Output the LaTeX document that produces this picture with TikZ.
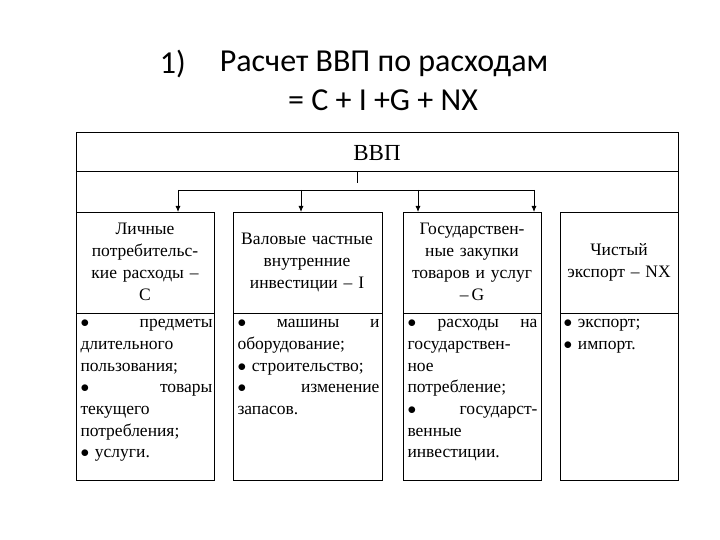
\documentclass[tikz,border=0pt]{standalone}
\usepackage{fontspec}
\setmainfont{Liberation Serif}
\newfontfamily\titlefont{Carlito}
\begin{document}
\begin{tikzpicture}[x=1pt,y=-1pt,line width=1pt,
 hd/.style={anchor=center,align=center,font=\fontsize{17.5}{22}\selectfont,text width=#1},
 bl/.style={anchor=north west,align=left,font=\fontsize{17.5}{21.7}\selectfont,inner sep=2pt},
 arr/.style={-{Latex[length=6pt,width=5pt]},line width=0.8pt}]
\usetikzlibrary{arrows.meta}
\useasboundingbox (0,0) rectangle (720,540);
\node[anchor=west,font=\titlefont\fontsize{32}{35}\selectfont] (n1) at (156,64) {1)};
\node[anchor=west,font=\titlefont\fontsize{32}{35}\selectfont] (t1) at (216,64) {Расчет ВВП по расходам};
\node[font=\titlefont\fontsize{32}{35}\selectfont] (t2) at (383,100) {= C + I +G + NX};
% outer frame
\draw (76,213) -- (76,133) -- (678,133) -- (678,213);
\draw (76,172) -- (678,172);
\node[font=\fontsize{23}{26}\selectfont] (vvp) at (377,153) {ВВП};
\coordinate (c0) at (357,172);
\coordinate (c1) at (357,183);
\draw[line width=0.8pt] (c0) -- (c1);
\coordinate (hl) at (178,190); \coordinate (hr) at (534,190);
\draw[line width=0.8pt] (hl) -- (hr);
% boxes
\foreach \i/\a/\b in {1/76/214,2/233/382,3/403/541,4/560/678}{
 \draw (\a,213) rectangle (\b,480);
 \draw (\a,313) -- (\b,313);
}
\draw[arr] (178,190) -- (178,212);
\draw[arr] (301,190) -- (301,212);
\draw[arr] (418,190) -- (418,212);
\draw[arr] (534,190) -- (534,212);
\node[hd=135pt] (h1) at (145,262) {Личные\\ потребительс-\\кие расходы –\\ С};
\node[hd=148pt] (h2) at (307,262) {Валовые частные\\ внутренние\\ инвестиции – I};
\node[hd=138pt] (h3) at (472,262) {Государствен-\\ные закупки\\ товаров и услуг\\ –\,G};
\node[hd=118pt] (h4) at (619,262) {Чистый\\ экспорт – NX};
\node[bl,text width=132pt] (d1) at (78,317) {\makebox[132pt][s]{$\bullet$\hfill предметы}\\ длительного\\ пользования;\\ \makebox[132pt][s]{$\bullet$\hfill товары}\\ текущего\\ потребления;\\ $\bullet$ услуги.};
\node[bl,text width=142pt] (d2) at (235,317) {\makebox[142pt][s]{$\bullet$\hfill машины\hfill и}\\ оборудование;\\ $\bullet$ строительство;\\ \makebox[142pt][s]{$\bullet$\hfill изменение}\\ запасов.};
\node[bl,text width=130pt] (d3) at (405,317) {\makebox[130pt][s]{$\bullet$\hfill расходы\hfill на}\\ государствен-\\ное\\ потребление;\\ \makebox[130pt][s]{$\bullet$\hfill государст-}\\венные\\ инвестиции.};
\node[bl,text width=112pt] (d4) at (561,317) {$\bullet$ экспорт;\\ $\bullet$ импорт.};
\end{tikzpicture}
\end{document}
